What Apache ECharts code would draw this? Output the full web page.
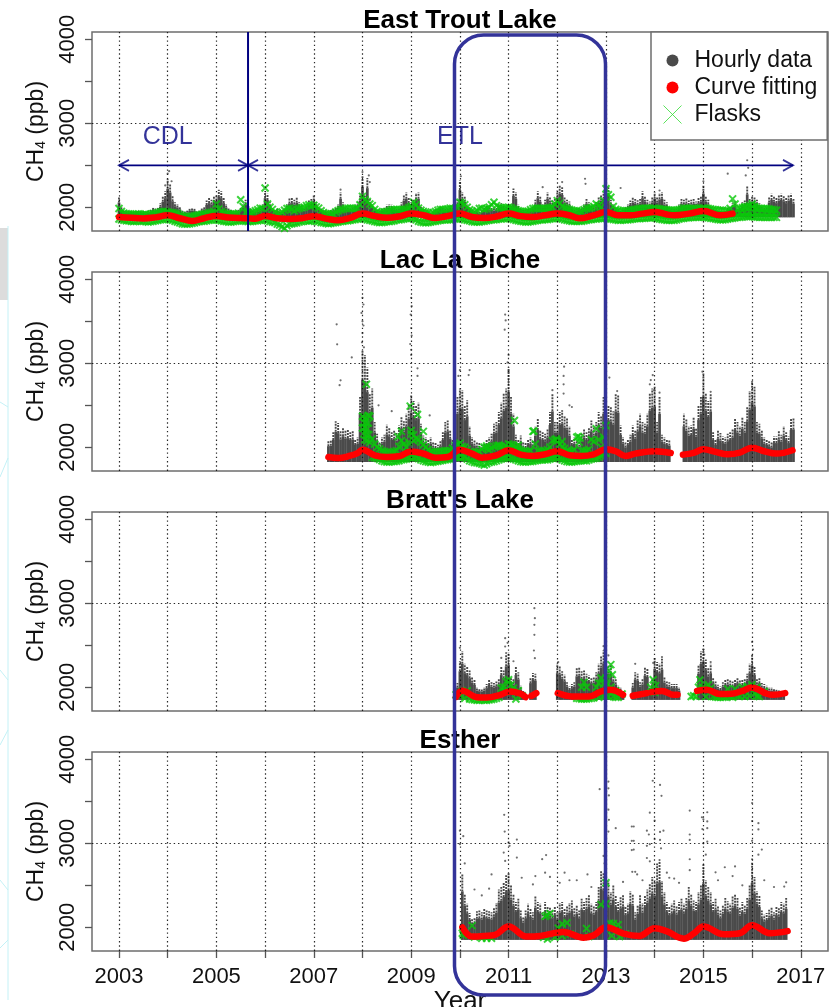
<!DOCTYPE html>
<html><head><meta charset="utf-8">
<style>html,body{margin:0;padding:0;background:#fff}#c{width:840px;height:1007px}</style>
<script src="https://cdn.jsdelivr.net/npm/echarts@6/dist/echarts.min.js"></script>
</head><body><div id="c"></div>
<script>
const stations = ["East Trout Lake","Lac La Biche","Bratt's Lake","Esther"];
const seriesNames = ["Hourly data","Curve fitting","Flasks"];
const yearTicks = [2003,2004,2005,2006,2007,2008,2009,2010,2011,2012,2013,2014,2015,2016,2017];
const yearLabels = [2003,2005,2007,2009,2011,2013,2015,2017];
const ppbTicks = [2000,2500,3000,3500,4000];
const ppbLabels = [2000,3000,4000];
const ppbGrid = [3000];
const topStep = 0.05, flaskStep = 0.1;

// Upper edge of the dense hourly cloud, read every 0.05 year
const etlTopStart = 2003.0;
const etlTop = [
2120,2010,1960,1950,1955,1950,1945,1950,1960,1950,1955,1945,1960,1970,2000,1990,2000,2050,2130,2190,
2340,2280,2140,2060,2040,2010,1960,1950,1960,1985,1990,1985,1950,1960,1990,2010,2080,2110,2090,2130,
2150,2210,2190,2110,2040,1990,1970,1960,1955,1970,2000,2040,2090,2060,1990,1960,1950,1970,1990,2040,
2190,2160,2060,2000,1960,1990,1950,1945,1990,2040,2105,2110,2090,2115,2060,2040,1990,2030,2080,2100,
2150,2060,2010,1990,1965,1950,1940,1965,1980,2000,2040,2180,2060,2010,2005,1995,2010,2030,2060,2150,
2370,2150,2350,2100,2040,1990,1970,1960,1985,2000,2030,2035,2030,2000,1985,1990,2060,2150,2180,2110,
2060,2090,2170,2180,2020,1980,1950,1945,1935,1950,1980,1985,2020,2000,1990,1995,2000,2005,2010,2090,
2320,2180,2130,2040,2010,1970,1960,1950,1945,1965,2000,2030,2010,2000,1990,2000,2040,2050,2030,2020,
2030,2040,2225,2180,2030,1990,1970,1975,1985,1990,2020,2090,2190,2130,2040,2090,2180,2120,2080,2100,
2200,2260,2240,2120,2090,2070,2020,1975,1990,2000,1990,2040,2100,2060,2030,2010,2060,2120,2150,2180,
2250,2240,2090,2040,2000,1985,1960,1975,2010,2040,2080,2115,2100,2085,2100,2190,2130,2090,2070,2120,
2180,2120,2170,2180,2090,2060,2010,1990,1985,1990,2040,2100,2090,2105,2080,2090,2100,2070,2110,2130,
2260,2130,2090,2020,1990,1975,1960,1950,1945,1955,2000,2020,2050,2070,1980,2000,2060,2080,2250,2100,
2130,2120,2090,2050,2020,2000,2010,2120,2160,2130,2110,2150,2160,2140,2110,2150,2160,2100];
const llbTopStart = 2007.3;
const llbTop = [
2080,2085,2180,2310,2290,2190,2240,2200,2210,2180,2190,2100,2120,2600,
3150,3100,2950,2640,2700,2300,2160,2060,2120,2150,2270,2240,2180,2200,2170,2260,2370,2310,2400,2520,
2620,2550,2500,2530,2280,2140,2120,2100,2120,2060,2050,2030,2080,2180,2300,2320,2200,2100,2220,2600,
2700,2680,2500,2560,2250,2120,2090,2060,2050,2030,2040,2100,2120,2160,2280,2300,2420,2530,2650,2700,
2950,2600,2400,2150,2100,2140,2060,2050,2100,2120,2080,2250,2340,2200,2180,2160,2220,2420,2640,2300,
2300,2420,2440,2380,2350,2250,2100,2120,2080,2070,2160,2220,2180,2240,2320,2250,2300,2420,2380,2600,
2620,2500,2480,2430,2640,2620,2260,2120,2060,2100,2150,2260,2200,2320,2400,2300,2280,2400,2650,2700,
2720,2300,2600,2150,2120,2100,2090,null,null,null,null,null,2400,2330,2250,2260,2360,2230,2500,2600,
2880,2650,2550,2640,2180,2100,2200,2170,2130,2120,2160,2180,2220,2340,2300,2250,2360,2300,2480,2670,
2780,2720,2300,2280,2200,2120,2100,2080,2060,2130,2130,2190,2150,2250,2180,2130,2340,2350];
const braTopStart = 2009.9;
const braTop = [
1990,2050,
2310,2430,2280,2250,2200,2130,2090,2000,1990,1985,2000,2040,2090,2060,2050,2070,2100,2250,2200,2390,
2410,2120,2100,2250,2180,2020,1960,null,null,2120,2170,2160,null,null,null,null,null,null,null,null,
2280,2260,2190,2150,2060,2010,2040,2060,2230,2240,2190,2200,2160,2140,2120,2130,2180,2280,2370,2440,
2300,2270,2280,2150,2100,2020,2000,1960,null,null,null,2050,2180,2160,2060,2100,2240,2220,2010,2100,
2350,2300,2280,2340,2130,2070,2060,2040,2040,2040,2000,null,null,null,null,null,null,null,2270,2430,
2460,2330,2230,2280,2120,2070,2030,2010,2060,2090,2100,2080,2070,2090,2120,2080,2090,2100,2160,2280,
2400,2250,2100,2120,2050,2040,2020,2000,2000,1990,1980,1970,1950,1950];
const estTopStart = 2010.05;
const estTop = [
2630,2400,2280,2170,2100,2120,2190,2200,2180,2220,2200,2190,2180,2230,2290,2450,2480,2540,2620,
2650,2500,2400,2300,2340,2200,2130,2200,2280,2220,2180,2370,2300,2280,2180,2300,2250,2240,2200,2250,
2180,2290,2300,2220,2260,2290,2320,2230,2270,2200,2340,2300,2350,2390,2280,2260,2300,2480,2680,2650,
2700,2550,2420,2500,2380,2300,2360,2390,2250,2280,2430,2400,2180,2270,2390,2290,2380,2450,2520,2600,
2560,2760,2780,2550,2420,2300,2250,2280,2320,2260,2300,2340,2280,2350,2480,2400,2320,2300,2420,2500,
2750,2560,2480,2420,2300,2340,2260,2200,2270,2350,2310,2280,2370,2400,2350,2240,2300,2270,2350,2500,
2770,2600,2430,2380,2200,2150,2170,2210,2240,2180,2250,2230,2300,2280,2350];
const hourlyFloor = [1880,1825,1850,1850];

// Isolated hourly points above the cloud
const etlDots = [[2004,2400],[2004.03,2430],[2003.95,2260],[2004.08,2310],[2008,2420],[2008.13,2380],[2008.15,2300],[2010.02,2370],[2012.57,2340],[2012.58,2280],[2013,2290],[2015.5,2400],[2015.9,2560],[2015.92,2470],[2015.87,2380],[2014.1,2200],[2011.7,2240],[2007.55,2210],[2013.3,2230],[2015,2310],[2012.1,2300]];
const llbDots = [[2007.47,3464],[2007.48,3226],[2007.55,2797],[2007.53,2740],[2007.78,3070],[2008,3780],[2008.02,3700],[2007.98,3600],[2008,3500],[2008.02,3450],[2008,3360],[2007.99,3250],[2008.03,3190],[2009,3780],[2009.01,3680],[2008.99,3580],[2009,3420],[2009.01,3330],[2008.98,3230],[2009,3160],[2009,3100],[2009.13,2940],[2009.13,2850],[2010,2920],[2009.97,2850],[2010.2,2920],[2010.18,2860],[2010.93,3580],[2010.94,3510],[2010.92,3400],[2011,3100],[2010.98,3010],[2011,2900],[2012.14,2960],[2012.13,2850],[2012.13,2750],[2012.13,2640],[2011.9,2680],[2013.05,3000],[2013.07,2830],[2013.23,2670],[2013.92,2800],[2013.9,2750],[2013.96,2860],[2013.99,2680],[2014.1,2650],[2015,3000],[2014.98,2900],[2016,2780],[2008.33,2500],[2008.6,2430],[2009.38,2380],[2012.3,2480],[2012.25,2500],[2015.15,2660]];
const braDots = [[2011.53,2942],[2011.54,2823],[2011.53,2744],[2011.53,2625],[2011.52,2438],[2011.54,2347],[2010.93,2585],[2010.93,2486],[2010.95,2407],[2010.85,2350],[2010.98,2530],[2010,2470],[2015,2450],[2015.02,2390],[2016,2540],[2016.02,2450],[2013.05,2380],[2012.95,2490],[2012.97,2450],[2013.97,2290],[2011.1,2310],[2013.6,2280],[2014.15,2360],[2012.02,2300],[2015.15,2300]];
const estDots = [[2010.91,3339],[2010.92,3140],[2011.17,3045],[2011.69,2811],[2011.77,2860],[2012.87,3645],[2013.05,3735],[2013.05,3655],[2013.06,3570],[2013.05,3400],[2013.06,3280],[2013.05,3140],[2013.2,3180],[2013.53,3200],[2013.53,3030],[2013.53,2920],[2013.54,2660],[2010,3150],[2010.07,3085],[2010,2990],[2010.1,2760],[2011,3010],[2011.02,2970],[2010.9,2890],[2010.93,2790],[2011.17,2830],[2011.27,2590],[2010.65,2630],[2011.55,2610],[2011.75,2650],[2012.15,2650],[2012.62,2630],[2013.96,3745],[2014.11,3695],[2014.14,3565],[2013.9,3365],[2013.57,3200],[2013.84,3150],[2013.88,3105],[2013.57,3030],[2013.57,2925],[2014,3270],[2014,3050],[2013.9,2990],[2013.84,2970],[2014.11,3135],[2014.18,3150],[2014.11,3040],[2014.13,2940],[2014.1,2800],[2013.84,2825],[2013.9,2785],[2014.72,3390],[2014.72,3105],[2014.72,3040],[2014.72,2810],[2014.72,2680],[2014.97,3310],[2015,3285],[2015.08,3370],[2015.08,3260],[2015.08,3180],[2014.98,3170],[2015.08,3020],[2015,3000],[2015.05,2865],[2016,3480],[2016.13,3240],[2016.13,3165],[2016,3265],[2016,3030],[2016.2,2925],[2016.13,2865],[2016,2810],[2015.65,2725],[2015.44,2715],[2015.25,2655],[2016.7,2535],[2016.66,2485],[2013.6,2660],[2013.64,2630],[2013.35,2540],[2012.4,2560],[2012.05,2530],[2011.5,2510],[2011.85,2600],[2012.25,2560],[2012.7,2480],[2010.3,2450],[2010.45,2380],[2010.6,2460],[2012.95,2850],[2012.97,2760],[2014.4,2580],[2014.5,2530],[2015.3,2560],[2015.6,2610],[2015.8,2500],[2016.25,2560],[2016.45,2480],[2014.25,2650],[2014.3,2590],[2013.75,2560]];

// Curve-fit knots; a null value breaks the line
const etlFit = [[2003,1885],[2003.25,1875],[2003.5,1868],[2003.75,1880],[2004,1905],[2004.25,1870],[2004.5,1838],[2004.75,1870],[2005,1897],[2005.25,1880],[2005.5,1872],[2005.65,1870],[2005.8,1865],[2006,1897],[2006.25,1870],[2006.5,1862],[2006.75,1870],[2007,1895],[2007.25,1865],[2007.5,1845],[2007.75,1875],[2008,1925],[2008.25,1895],[2008.5,1875],[2008.75,1890],[2009,1925],[2009.25,1905],[2009.5,1873],[2009.75,1895],[2010,1925],[2010.25,1885],[2010.5,1873],[2010.75,1890],[2011,1925],[2011.25,1895],[2011.5,1885],[2011.75,1905],[2012,1925],[2012.25,1905],[2012.45,1870],[2012.75,1905],[2013,1945],[2013.25,1905],[2013.5,1905],[2013.75,1925],[2014,1945],[2014.25,1915],[2014.4,1905],[2014.75,1930],[2015,1955],[2015.35,1905],[2015.6,1925]];
const llbFit = [[2007.3,1885],[2007.5,1873],[2007.75,1900],[2007.9,1930],[2008,1972],[2008.25,1905],[2008.5,1885],[2008.75,1893],[2009,1950],[2009.25,1925],[2009.5,1877],[2009.75,1885],[2010,1972],[2010.25,1925],[2010.45,1877],[2010.75,1905],[2011,1965],[2011.25,1913],[2011.5,1897],[2011.75,1917],[2012,1953],[2012.25,1905],[2012.5,1897],[2012.75,1917],[2013,1976],[2013.2,1953],[2013.4,1897],[2013.6,1925],[2014,1953],[2014.33,1933],[2014.45,null],[2014.58,1913],[2014.8,1933],[2015,1976],[2015.25,1945],[2015.5,1917],[2015.75,1937],[2016,1996],[2016.25,1953],[2016.5,1925],[2016.83,1965]];
const braFit = [[2009.92,1885],[2010.05,1958],[2010.35,1883],[2010.55,1879],[2010.83,1911],[2011.03,1950],[2011.25,1923],[2011.35,1883],[2011.42,null],[2011.47,1899],[2011.57,1931],[2011.7,null],[2012.01,1931],[2012.3,1891],[2012.65,1891],[2012.9,1950],[2013.08,1970],[2013.35,1911],[2013.45,null],[2013.55,1899],[2013.84,1931],[2013.92,null],[2013.93,1942],[2014.15,1957],[2014.39,1911],[2014.47,1911],[2014.7,null],[2014.87,1957],[2015.07,1970],[2015.34,1919],[2015.58,1923],[2015.82,1961],[2015.99,1998],[2016.3,1923],[2016.44,1911],[2016.68,1931]];
const estFit = [[2010.05,2000],[2010.25,1890],[2010.5,1897],[2010.72,1910],[2011,2010],[2011.37,1890],[2011.65,1897],[2012.12,1945],[2012.54,1877],[2012.75,1905],[2013,2000],[2013.36,1925],[2013.68,1897],[2014,1990],[2014.24,1955],[2014.6,1865],[2014.8,1925],[2015,2010],[2015.42,1917],[2015.75,1930],[2016,2025],[2016.37,1930],[2016.73,1955]];

// Flask samples: upper and lower runs read every 0.1 year, plus single samples
const etlFlaskStart = 2003.0;
const etlFlaskUpper = [
1985,1930,1920,1915,1920,1915,1910,1925,1935,1950,
1945,1935,1925,1900,1885,1895,1905,1915,1925,1940,
2040,1950,1925,1915,1920,2090,1940,1935,1960,1990,
2230,2000,1945,1925,1965,1990,1960,1985,2000,2030,
2025,1990,1935,1925,1920,1960,1975,1990,1985,1990,
2130,2070,2020,1950,1935,1950,1970,1975,1970,1980,
2010,2030,1965,1945,1925,1950,1975,1975,1990,1985,
2060,2030,1970,1945,1985,1975,2000,2060,2000,1990,
2000,1980,1960,1945,1955,1985,1990,1985,1985,2000,
2080,2010,1985,1965,1960,1950,1985,1995,2040,2000,
2220,2120,1975,1960,1955,1965,1975,1985,1990,1985,
1990,1980,1975,1965,1965,1970,1990,1985,1985,1985,
1990,1985,1975,1965,1965,1960,2100,1980,1995,2010,
2010,1990,1985,1985,1975,1965];
const etlFlaskLower = [
1860,1845,1840,1830,1840,1835,1825,1835,1845,1855,
1860,1845,1825,1805,1800,1810,1825,1835,1840,1850,
1850,1840,1830,1825,1835,1845,1835,1830,1840,1845,
1850,1830,1820,1790,1750,1800,1810,1825,1840,1835,
1845,1830,1815,1805,1815,1825,1835,1840,1850,1860,
1870,1850,1840,1825,1820,1830,1835,1850,1855,1870,
1870,1850,1825,1815,1825,1835,1845,1850,1850,1860,
1870,1850,1840,1825,1825,1835,1845,1850,1860,1865,
1870,1855,1840,1830,1825,1835,1845,1850,1855,1865,
1870,1860,1845,1835,1835,1835,1845,1855,1860,1870,
1870,1860,1850,1845,1850,1855,1865,1865,1870,1875,
1875,1860,1850,1845,1845,1860,1870,1875,1880,1880,
1885,1875,1865,1855,1850,1860,1870,1880,1885,1890,
1890,1885,1880,1880,1880,1880];
const etlMidStart = 2003.05;
const etlFlaskUpperMid = [
1950,1925,1915,1920,1910,1920,1915,1930,1945,1950,
1940,1930,1910,1890,1885,1900,1910,1920,1935,1950,
1980,1935,1920,1920,1930,2010,1935,1945,1970,1985,
2040,1975,1930,1945,1985,1975,1975,1995,2020,2015,
2005,1960,1925,1920,1945,1970,1985,1990,1985,2030,
2090,2040,1975,1940,1945,1960,1975,1970,1975,1995,
2060,1990,1950,1935,1935,1965,1975,1980,1985,2000,
2050,2000,1955,1960,1990,1985,2030,2020,1995,1995,
1995,1970,1950,1950,1970,1990,1985,1985,1995,2040,
2050,1995,1975,1960,1955,1970,1990,2010,2020,2080,
2150,2010,1965,1955,1960,1970,1980,1990,1985,1990,
1985,1975,1970,1965,1965,1980,1990,1985,1985,1990,
1990,1980,1970,1965,1960,1985,2040,1990,2005,2020,
2000,1985,1985,1980,1970];
const etlFlaskLowerMid = [
1850,1840,1835,1835,1835,1830,1830,1840,1850,1860,
1850,1835,1815,1800,1805,1815,1830,1835,1845,1855,
1845,1835,1825,1830,1840,1840,1830,1835,1840,1850,
1840,1825,1800,1770,1780,1805,1815,1830,1840,1840,
1835,1820,1810,1810,1820,1830,1840,1845,1855,1865,
1860,1845,1830,1820,1825,1830,1840,1850,1860,1870,
1860,1835,1820,1820,1830,1840,1850,1850,1855,1865,
1860,1845,1830,1825,1830,1840,1850,1855,1860,1870,
1860,1845,1835,1825,1830,1840,1850,1855,1860,1870,
1865,1850,1840,1835,1835,1840,1850,1860,1865,1870,
1865,1855,1845,1850,1850,1860,1865,1870,1875,1875,
1865,1855,1845,1845,1850,1865,1875,1880,1880,1885,
1880,1870,1860,1850,1855,1865,1875,1880,1890,1890,
1885,1880,1880,1880,1880];
const etlFlaskSingles = [[2015.65,1930],[2015.75,1935],[2015.85,1940],[2015.95,1950],[2016.05,1945],[2016.15,1940],[2016.25,1935],[2016.35,1930],[2016.45,1925],[2015.85,2000],[2016,2040],[2016.05,2010]];
const llbFlaskStart = 2008.2;
const llbFlaskUpper = [
2100,2000,1960,1940,1940,1960,2080,2000,
2200,2100,2060,2000,1950,1940,1950,1960,1960,2020,
2050,2000,1950,1930,1950,2000,1970,2010,2020,2000,
2040,2020,1980,1950,1950,2190,1960,1950,1970,2080,
2080,2000,1960,1950,2120,1960,1960,2090,2220,2000,
2260];
const llbFlaskLower = [
1880,1870,1840,1825,1830,1835,1850,1860,
1880,1880,1850,1830,1820,1830,1840,1850,1860,1880,
1880,1880,1840,1820,1810,1790,1820,1830,1850,1870,
1880,1860,1840,1825,1830,1835,1845,1850,1850,1870,
1880,1850,1830,1825,1835,1845,1840,1860,1870,1900,
1930];
const llbMidStart = 2008.25;
const llbFlaskUpperMid = [
2040,1980,1950,1935,1950,2010,2040,2060,
2150,2090,2030,1970,1945,1945,1955,1960,1990,2040,
2010,1975,1940,1940,1975,1985,1990,2020,2010,2010,
2030,2000,1965,1950,1960,2040,1955,1960,2000,2090,
2040,1985,1955,1970,2060,1960,1975,2070,2090,2120];
const llbFlaskLowerMid = [
1875,1855,1830,1825,1830,1840,1855,1870,
1880,1865,1840,1825,1825,1835,1845,1855,1870,1880,
1880,1860,1830,1815,1800,1805,1825,1840,1860,1875,
1870,1850,1830,1825,1830,1840,1850,1850,1860,1875,
1865,1840,1825,1830,1840,1840,1850,1865,1885,1915];
const llbFlaskSingles = [[2008.08,2750],[2008,2370],[2008.05,2360],[2008.12,2380],[2008.15,2370],[2008.02,2300],[2008.07,2300],[2008.12,2290],[2008,2230],[2008.05,2230],[2008.1,2220],[2008.03,2160],[2008.08,2150],[2008.13,2150],[2008.05,2090],[2008.1,2080],[2008.15,2060],[2008.98,2490],[2009.13,2390],[2009.25,2190],[2008.8,2190],[2008.73,2125],[2009,2160],[2009.05,2080],[2011.12,2320],[2011.52,2195],[2011.2,2024],[2010.55,2016],[2010.8,2024],[2012.43,2130],[2012.47,2110],[2011.98,2100],[2012.1,2070]];
const braFlaskSingles = [[2009.92,1910],[2010,1900],[2010.05,1950],[2010.1,1870],[2010.15,1960],[2010.2,1860],[2010.3,1850],[2010.4,1845],[2010.5,1845],[2010.6,1850],[2010.7,1860],[2010.8,1880],[2010.85,1990],[2010.9,2000],[2010.95,2070],[2011,2090],[2011.05,2030],[2011.1,1990],[2011.15,1860],[2011.2,1960],[2011.28,1900],[2012.4,1870],[2012.5,1860],[2012.5,2000],[2012.55,2060],[2012.6,2000],[2012.6,1860],[2012.7,1870],[2012.8,2000],[2012.85,2050],[2012.85,1880],[2012.9,2110],[2012.95,2040],[2012.95,1900],[2013,2110],[2013,1900],[2013.03,2040],[2013.06,2200],[2013.1,2270],[2013.13,2150],[2013.1,2000],[2013.15,1890],[2013.2,1960],[2013.25,1880],[2013.33,1920],[2013.92,2000],[2013.97,2090],[2014.02,2020],[2014,1940],[2014.75,1890],[2014.8,1900],[2014.85,1890],[2014.9,2000],[2014.93,2090],[2014.98,2000],[2015.05,1890],[2015.1,2030],[2015.15,1990],[2015.2,1890],[2015.3,1880],[2015.4,1880],[2015.5,1900],[2015.5,1980],[2015.6,1880],[2015.65,1980],[2015.7,1900],[2015.8,2000],[2015.85,1890],[2015.9,2010],[2016,2030],[2016.05,1920],[2016.1,2000],[2016.15,1890],[2016.25,1950],[2010.25,1855],[2010.35,1845],[2010.45,1850],[2010.55,1845],[2010.65,1855],[2010.75,1870],[2010.93,1950],[2011,1960],[2012.45,1865],[2012.55,1860],[2012.65,1865],[2012.75,1875],[2013.05,1890],[2013.2,1880],[2015.25,1885],[2015.35,1880],[2015.45,1885],[2015.55,1890],[2015.75,1895],[2015.95,1900],[2016.1,1895]];
const estFlaskSingles = [[2010.05,1930],[2010.07,1905],[2010.25,2020],[2010.3,1885],[2010.45,1870],[2010.55,1870],[2010.65,1870],[2011.79,2145],[2011.85,2165],[2011.75,2130],[2011.72,1880],[2011.8,1860],[2011.95,1880],[2012.02,1990],[2012.1,2040],[2012.2,2055],[2012.1,1900],[2012.27,1920],[2012.6,1985],[2012.65,1890],[2012.9,2270],[2013,2280],[2013,2530],[2013.08,2050],[2013.15,2045],[2013.25,2030],[2013.28,1890],[2013.08,1990],[2013.4,1920],[2013.12,1900]];

// Instrument-period annotation in the first panel
const sitePeriodSplit = 2005.65;
const sitePeriods = [{name:"CDL",labelYear:2004,from:2003,to:sitePeriodSplit},{name:"ETL",labelYear:2010,from:sitePeriodSplit,to:2016.84}];
const periodArrowPpb = 2500, periodLabelPpb = 2833;

const tops = [[etlTopStart,etlTop],[llbTopStart,llbTop],[braTopStart,braTop],[estTopStart,estTop]];
const dots = [etlDots,llbDots,braDots,estDots];
const fits = [etlFit,llbFit,braFit,estFit];
const flaskRuns = [
  [[etlFlaskStart,etlFlaskUpper],[etlFlaskStart,etlFlaskLower],[etlMidStart,etlFlaskUpperMid],[etlMidStart,etlFlaskLowerMid]],
  [[llbFlaskStart,llbFlaskUpper],[llbFlaskStart,llbFlaskLower],[llbMidStart,llbFlaskUpperMid],[llbMidStart,llbFlaskLowerMid]],
  [],[]];
const flaskSingles = [etlFlaskSingles,llbFlaskSingles,braFlaskSingles,estFlaskSingles];

const FONT = '"Liberation Sans", Arial, sans-serif';
const GRAY='#4a4a4a', RED='#ff0000', GREEN='#0ac80a', NAVY='#000080', FRAME='#6e6e6e';
const XPATH='path://M0 0L10 10M10 0L0 10';
const YMIN=1718, YMAX=4087, XMIN=2002.446, XMAX=2017.559;
const gridTops=[32,272,512,752];

const series=[], grids=[], xAxes=[], yAxes=[], titles=[];
stations.forEach((st,k)=>{
  grids.push({left:92,width:736,top:gridTops[k],height:199,outerBoundsMode:'none',containLabel:false,show:true,borderColor:FRAME,borderWidth:1.5,backgroundColor:'transparent'});
  titles.push({text:st,left:455,top:gridTops[k]-29,textAlign:'center',textStyle:{fontFamily:FONT,fontWeight:'bold',fontSize:26,color:'#000'}});
  const last=k===3;
  xAxes.push({gridIndex:k,type:'value',min:XMIN,max:XMAX,splitLine:{show:false},axisLine:{show:false},
    axisTick:{show:last,length:7,customValues:yearTicks,lineStyle:{color:'#555',width:1.3}},
    axisLabel:{show:last,customValues:yearLabels,margin:15,fontFamily:FONT,fontSize:22,color:'#111',formatter:v=>String(v)},
    name:last?'Year':'',nameLocation:'middle',nameGap:37,nameTextStyle:{fontFamily:FONT,fontSize:26,color:'#111'}});
  yAxes.push({gridIndex:k,type:'value',min:YMIN,max:YMAX,splitLine:{show:false},axisLine:{show:false},
    axisTick:{show:true,length:7,customValues:ppbTicks,lineStyle:{color:'#555',width:1.3}},
    axisLabel:{rotate:90,customValues:ppbLabels,margin:13,fontFamily:FONT,fontSize:22,color:'#111',formatter:v=>String(v)},
    name:'CH{s|4} (ppb)',nameLocation:'middle',nameRotate:90,nameGap:44,
    nameTextStyle:{fontFamily:FONT,fontSize:23,color:'#111',rich:{s:{fontFamily:FONT,fontSize:14,color:'#111',verticalAlign:'bottom',padding:[8,0,0,0]}}}});

  const [start,arr]=tops[k];
  const cloud=[];
  arr.forEach((v,i)=>{ if(v!==null) cloud.push([+(start+i*topStep).toFixed(2),hourlyFloor[k],v]); });
  series.push({name:seriesNames[0],type:'custom',xAxisIndex:k,yAxisIndex:k,z:2,data:cloud,silent:true,
    encode:{x:0,y:[1,2]},
    renderItem:(p,api)=>{
      const x=api.value(0), lo=api.value(1), hi=api.value(2);
      const solid=lo+(hi-lo)*0.74;
      const a=api.coord([x,lo]), m=api.coord([x,solid]), b=api.coord([x,hi]);
      return {type:'group',children:[
        {type:'line',shape:{x1:a[0],y1:a[1],x2:m[0],y2:m[1]},style:{stroke:GRAY,lineWidth:2.7}},
        {type:'line',shape:{x1:m[0],y1:m[1],x2:b[0],y2:b[1]},style:{stroke:GRAY,lineWidth:1.9,lineDash:[2,1]}}
      ]};
    }});
  series.push({name:seriesNames[0],type:'scatter',xAxisIndex:k,yAxisIndex:k,z:2,data:dots[k],symbol:'circle',symbolSize:2.2,silent:true,itemStyle:{color:GRAY}});

  const fl=[];
  flaskRuns[k].forEach(([fs,vals])=>vals.forEach((v,i)=>fl.push([+(fs+i*flaskStep).toFixed(2),v])));
  flaskSingles[k].forEach(p=>fl.push(p));
  series.push({name:seriesNames[2],type:'scatter',xAxisIndex:k,yAxisIndex:k,z:3,data:fl,symbol:XPATH,symbolSize:7,silent:true,
    itemStyle:{color:'rgba(0,0,0,0)',borderColor:GREEN,borderWidth:2}});

  series.push({name:seriesNames[1],type:'line',xAxisIndex:k,yAxisIndex:k,z:4,data:fits[k],smooth:0.4,showSymbol:false,silent:true,
    lineStyle:{color:RED,width:6.5,cap:'round',join:'round'},itemStyle:{color:RED}});

  // dotted reference lines
  series.push({type:'line',xAxisIndex:k,yAxisIndex:k,z:5,data:[],silent:true,
    markLine:{silent:true,symbol:'none',animation:false,label:{show:false},
      lineStyle:{color:'#111',width:1.2,type:[1.4,2.9],opacity:0.9},
      data:yearTicks.map(y=>({xAxis:y})).concat(ppbGrid.map(v=>({yAxis:v})))}});
});

// first-panel annotation
series.push({type:'line',xAxisIndex:0,yAxisIndex:0,z:6,silent:true,showSymbol:false,
  data:[[sitePeriodSplit,YMIN],[sitePeriodSplit,YMAX]],lineStyle:{color:NAVY,width:2}});
sitePeriods.forEach(p=>{
  series.push({type:'line',xAxisIndex:0,yAxisIndex:0,z:6,silent:true,showSymbol:false,
    data:[[p.from,periodArrowPpb],[p.to,periodArrowPpb]],lineStyle:{color:NAVY,width:1.8}});
  series.push({type:'scatter',xAxisIndex:0,yAxisIndex:0,z:6,silent:true,data:[[p.from,periodArrowPpb]],
    symbol:'path://M10 0L0 5L10 10',symbolSize:[10,11],symbolOffset:[5,0],symbolKeepAspect:false,
    itemStyle:{color:'rgba(0,0,0,0)',borderColor:NAVY,borderWidth:1.8}});
  series.push({type:'scatter',xAxisIndex:0,yAxisIndex:0,z:6,silent:true,data:[[p.to,periodArrowPpb]],
    symbol:'path://M0 0L10 5L0 10',symbolSize:[10,11],symbolOffset:[-5,0],symbolKeepAspect:false,
    itemStyle:{color:'rgba(0,0,0,0)',borderColor:NAVY,borderWidth:1.8}});
  series.push({type:'scatter',xAxisIndex:0,yAxisIndex:0,z:6,silent:true,data:[[p.labelYear,periodLabelPpb]],symbolSize:0,
    label:{show:true,position:'inside',formatter:p.name,fontFamily:FONT,fontSize:25,color:NAVY}});
});

const dotIcon='path://M0 0L0 0M18 18L18 18M3 9a6 6 0 1 0 12 0a6 6 0 1 0 -12 0Z';
const option={
  animation:false,backgroundColor:'#fff',
  title:titles,grid:grids,xAxis:xAxes,yAxis:yAxes,series,
  legend:{orient:'vertical',left:651,top:32,z:20,selectedMode:false,
    backgroundColor:'#fff',borderColor:FRAME,borderWidth:1.5,borderRadius:0,
    padding:[17,10,14,12],itemWidth:18,itemHeight:18,itemGap:4,
    textStyle:{fontFamily:FONT,fontSize:23,color:'#111',padding:[0,0,0,8]},
    data:[
      {name:seriesNames[0],icon:dotIcon,itemStyle:{color:GRAY,borderWidth:0}},
      {name:seriesNames[1],icon:dotIcon,itemStyle:{color:RED,borderWidth:0}},
      {name:seriesNames[2],icon:'path://M0 0L10 10M10 0L0 10',itemStyle:{color:'rgba(0,0,0,0)',borderColor:'#33dd33',borderWidth:1}}
    ]},
  graphic:[
    {type:'rect',z:30,silent:true,shape:{x:454.5,y:35,width:151,height:960,r:29},style:{fill:'none',stroke:'#333399',lineWidth:3.5}},
    {type:'rect',z:1,silent:true,shape:{x:0,y:228,width:8,height:72},style:{fill:'#dcdcdc'}},
    {type:'line',z:1,silent:true,shape:{x1:8,y1:226,x2:8,y2:1000},style:{stroke:'#c4f1f6',lineWidth:1}},
    {type:'line',z:1,silent:true,shape:{x1:0,y1:402,x2:8,y2:407},style:{stroke:'#c4f1f6',lineWidth:1}},
    {type:'line',z:1,silent:true,shape:{x1:0,y1:477,x2:8,y2:458},style:{stroke:'#c4f1f6',lineWidth:1}},
    {type:'line',z:1,silent:true,shape:{x1:0,y1:670,x2:8,y2:680},style:{stroke:'#c4f1f6',lineWidth:1}},
    {type:'line',z:1,silent:true,shape:{x1:0,y1:745,x2:8,y2:730},style:{stroke:'#c4f1f6',lineWidth:1}},
    {type:'line',z:1,silent:true,shape:{x1:0,y1:880,x2:8,y2:890},style:{stroke:'#c4f1f6',lineWidth:1}},
    {type:'line',z:1,silent:true,shape:{x1:0,y1:948,x2:8,y2:940},style:{stroke:'#c4f1f6',lineWidth:1}}
  ]
};
echarts.init(document.getElementById('c'),null,{renderer:'canvas'}).setOption(option);
</script></body></html>
